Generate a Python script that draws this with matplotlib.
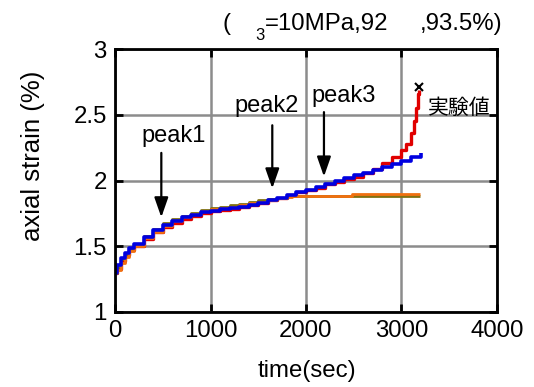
import matplotlib
matplotlib.use("Agg")
import matplotlib.pyplot as plt

plt.rcParams['font.family'] = ['Liberation Sans', 'Noto Sans CJK JP', 'DejaVu Sans']

# ---- data (time in sec, axial strain in %) ----
t_red = [0, 20, 60, 100, 150, 200, 300, 400, 500, 600, 700, 800, 900, 1000, 1100, 1200,
         1300, 1400, 1500, 1600, 1700, 1800, 1900, 2000, 2100, 2200, 2300, 2400, 2500,
         2600, 2700, 2800, 2900, 3000, 3050, 3100, 3130, 3150, 3170, 3180]
y_red = [1.30, 1.33, 1.39, 1.43, 1.47, 1.50, 1.555, 1.605, 1.645, 1.68, 1.705, 1.73, 1.75,
         1.765, 1.775, 1.785, 1.80, 1.815, 1.83, 1.85, 1.87, 1.89, 1.91, 1.93, 1.945, 1.97,
         1.99, 2.01, 2.03, 2.06, 2.09, 2.13, 2.18, 2.23, 2.28, 2.36, 2.45, 2.55, 2.66, 2.69]

t_blue = [0, 20, 60, 100, 150, 200, 300, 400, 500, 600, 700, 800, 900, 1000, 1100, 1200,
          1300, 1400, 1500, 1600, 1700, 1800, 1900, 2000, 2100, 2200, 2300, 2400, 2500,
          2600, 2700, 2800, 2900, 3000, 3100, 3200]
y_blue = [1.30, 1.36, 1.41, 1.45, 1.49, 1.515, 1.57, 1.62, 1.66, 1.695, 1.72, 1.74, 1.76,
          1.77, 1.78, 1.79, 1.80, 1.815, 1.83, 1.85, 1.87, 1.89, 1.91, 1.93, 1.95, 1.975,
          1.995, 2.02, 2.04, 2.06, 2.08, 2.10, 2.125, 2.15, 2.18, 2.21]

t_olive = [0, 20, 60, 100, 150, 200, 300, 400, 500, 600, 700, 800, 900, 1000, 1100, 1200,
           1300, 1400, 1500, 1600, 1700, 1800, 3190]
y_olive = [1.30, 1.34, 1.40, 1.44, 1.48, 1.515, 1.575, 1.63, 1.675, 1.705, 1.73, 1.755,
           1.775, 1.79, 1.80, 1.81, 1.825, 1.84, 1.85, 1.86, 1.87, 1.88, 1.88]

t_orange = [0, 20, 60, 100, 150, 200, 300, 400, 500, 600, 700, 800, 900, 1000, 1100, 1200,
            1300, 1400, 1500, 1600, 1700, 1800, 1850, 2478, 3190]
y_orange = [1.30, 1.32, 1.37, 1.42, 1.465, 1.50, 1.56, 1.61, 1.655, 1.69, 1.72, 1.745,
            1.765, 1.78, 1.79, 1.80, 1.815, 1.83, 1.84, 1.855, 1.865, 1.875, 1.882, 1.90, 1.90]

fail_point = (3180, 2.71)

peak_names = ["peak1", "peak2", "peak3"]
peak_times = [485, 1647, 2188]
arrow_top = [2.21, 2.42, 2.52]
arrow_tip = [1.72, 1.94, 2.03]
label_x = [616, 1585, 2394]
label_y = [2.295, 2.523, 2.60]

xticks = [0, 1000, 2000, 3000, 4000]
yticks = [1, 1.5, 2, 2.5, 3]
ytick_labels = ["1", "1.5", "2", "2.5", "3"]

W, H = 534, 387
FS = 17.3
fig = plt.figure(figsize=(W / 100, H / 100), dpi=100)
ax = fig.add_axes([115 / W, 1 - 312 / H, (497 - 115) / W, (312 - 49) / H])

ax.plot(t_red, y_red, drawstyle='steps-post', color='#e00000', lw=2.4, zorder=3,
        solid_capstyle='butt')
ax.plot(t_olive, y_olive, drawstyle='steps-post', color='#807010', lw=2.0, zorder=3.2,
        solid_capstyle='butt')
ax.plot(t_orange, y_orange, drawstyle='steps-post', color='#f07010', lw=2.0, zorder=3.4,
        solid_capstyle='butt')
ax.plot(t_blue, y_blue, drawstyle='steps-post', color='#0000e0', lw=2.6, zorder=3.6,
        solid_capstyle='butt')
ax.plot([fail_point[0]], [fail_point[1]], marker='x', color='black', ms=6, mew=1.5, zorder=4)

for name, tx, top, tip, lx, ly in zip(peak_names, peak_times, arrow_top, arrow_tip, label_x, label_y):
    ax.annotate('', xy=(tx, tip), xytext=(tx, top),
                arrowprops=dict(arrowstyle='-|>,head_length=1.2,head_width=0.42',
                                color='black', lw=1.6, mutation_scale=10,
                                shrinkA=0, shrinkB=0), zorder=5)
    ax.text(lx, ly, name, ha='center', va='baseline', fontsize=17, zorder=5)

ax.text(3280, 2.554, "実験値", ha='left', va='center', fontsize=15,
        family=['Noto Sans CJK JP', 'DejaVu Sans'], zorder=5)

ax.set_xlim(0, 4000)
ax.set_ylim(1, 3)
ax.set_xticks(xticks)
ax.set_yticks(yticks)
ax.set_xticklabels([str(v) for v in xticks])
ax.set_yticklabels(ytick_labels)
ax.grid(True, color='#8c8c8c', lw=1.8)
ax.set_axisbelow(True)
ax.tick_params(direction='in', length=6, width=2, top=True, right=True,
               labelsize=FS, pad=6)
for s in ax.spines.values():
    s.set_linewidth(2)
    s.set_zorder(6)

fig.text(307 / W, 1 - 371 / H, "time(sec)", ha='center', va='center', fontsize=FS)
fig.text(33 / W, 1 - 156 / H, "axial strain (%)", ha='center', va='center',
         rotation=90, fontsize=18.5)

# title pieces
fig.text(222 / W, 1 - 30 / H, "(", ha='left', va='baseline', fontsize=FS)
fig.text(255 / W, 1 - 40 / H, "3", ha='left', va='baseline', fontsize=12)
fig.text(265 / W, 1 - 30 / H, "=10MPa,92", ha='left', va='baseline', fontsize=FS)
fig.text(420 / W, 1 - 30 / H, ",93.5%)", ha='left', va='baseline', fontsize=FS)

fig.savefig("out.png", dpi=100)
